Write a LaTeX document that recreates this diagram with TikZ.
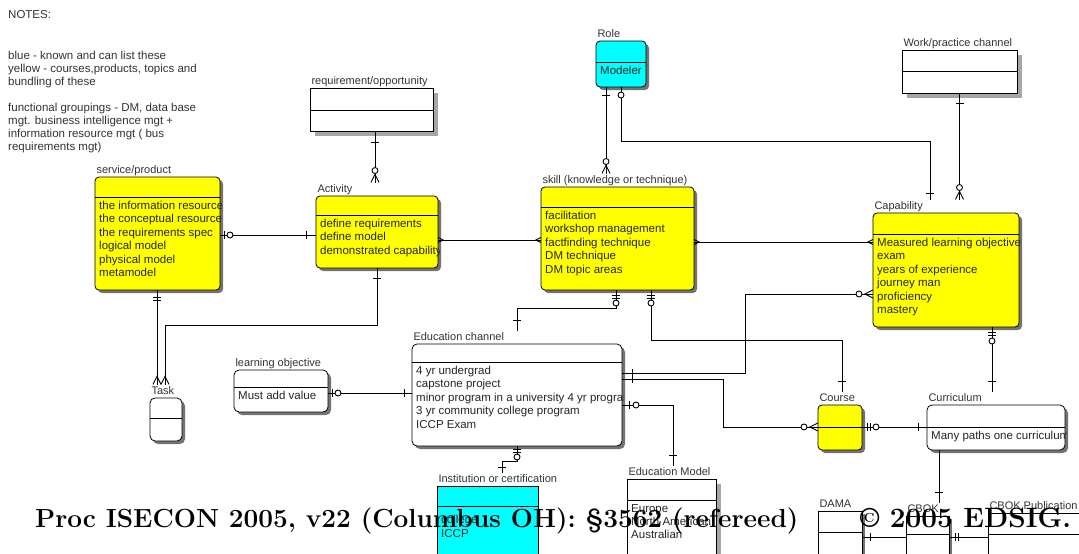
\documentclass[tikz,border=0pt]{standalone}
\usepackage{fontspec}
\setsansfont{Liberation Sans}
\usetikzlibrary{positioning,calc,shadows,decorations.markings}
\definecolor{erYel}{RGB}{255,255,0}
\definecolor{erCyan}{RGB}{0,255,255}
\tikzset{
  dshd/.style={drop shadow={shadow xshift=3pt,shadow yshift=-3pt,fill=black!55,opacity=1}},
  gshd/.style={drop shadow={shadow xshift=5pt,shadow yshift=-5pt,fill=black!35,opacity=1}},
  ybox/.style={draw,line width=.8pt,fill=erYel,rounded corners=4pt,dshd,inner sep=0,outer sep=0},
  cbox/.style={draw,line width=.8pt,fill=erCyan,rounded corners=4pt,dshd,inner sep=0,outer sep=0},
  wbox/.style={draw,line width=.8pt,fill=white,rounded corners=5pt,dshd,inner sep=0,outer sep=0},
  sbox/.style={draw,line width=.8pt,fill=white,gshd,inner sep=0,outer sep=0},
  qbox/.style={draw,line width=.8pt,fill=white,dshd,inner sep=0,outer sep=0},
  ibox/.style={draw,line width=.8pt,fill=erCyan,inner sep=0,outer sep=0},
  divl/.style={line width=.8pt},
  ttl/.style={anchor=base west,inner sep=0,outer sep=1.5pt,text=black!80,
              font=\sffamily\fontsize{11}{13}\selectfont},
  att/.style={anchor=north west,inner sep=0,align=left,text=black!85,
              font=\sffamily\fontsize{11.5}{13.4}\selectfont},
  note/.style={anchor=north west,inner sep=0,align=left,text=black!80,
              font=\sffamily\fontsize{11.5}{13}\selectfont},
  foot/.style={anchor=base west,inner sep=0,font=\rmfamily\bfseries\fontsize{26.2}{30}\selectfont},
  con/.style={line width=.9pt},
  mk/.style={line width=.9pt,black},
  sbar/.style={postaction={decorate,decoration={markings,
      mark=at position #1 with {\draw[mk] (0,-4pt) -- (0,4pt);}}}},
  ebar/.style={postaction={decorate,decoration={markings,
      mark=at position -#1 with {\draw[mk] (0,-4pt) -- (0,4pt);}}}},
  scirc/.style={postaction={decorate,decoration={markings,
      mark=at position #1 with {\draw[mk,fill=white] (0,0) circle (3pt);}}}},
  ecirc/.style={postaction={decorate,decoration={markings,
      mark=at position -#1 with {\draw[mk,fill=white] (0,0) circle (3pt);}}}},
  scrow/.style={postaction={decorate,decoration={markings,
      mark=at position 0.1pt with {\draw[mk] (0,#1/2) -- (#1,0) -- (0,-#1/2);}}}},
  ecrow/.style={postaction={decorate,decoration={markings,
      mark=at position -0.1pt with {\draw[mk] (0,#1/2) -- (-#1,0) -- (0,-#1/2);}}}},
  scrow/.default=8pt, ecrow/.default=8pt,
}
% entity: name, style, x, y, width, height, divider, title, attributes
\newcommand\erent[9]{%
  \node[#2,minimum width=#5pt,minimum height=#6pt,anchor=north west] (#1) at (#3,#4) {};
  \draw[divl] ([yshift=-#7pt]#1.north west) -- ([yshift=-#7pt]#1.north east);
  \node[ttl] (#1-t) at ([yshift=4pt]#1.north west) {#8};
  \begin{scope}
    \clip ([xshift=-1pt]#1.north west) rectangle ([xshift=1pt]#1.south east);
    \node[att] (#1-a) at ([shift={(4pt,-#7pt-4pt)}]#1.north west) {#9};
  \end{scope}}

\begin{document}
\begin{tikzpicture}[x=1pt,y=-1pt]
  \useasboundingbox[fill=white] (0,0) rectangle (1079,554);
  % notes
  \node[note] (notes) at (8,10) {NOTES:};
  \node[note] (notes-a) at (8,51) {blue - known and can list these\\yellow - courses,products, topics and\\bundling of these};
  \node[note] (notes-b) at (8,103) {functional groupings - DM, data base\\mgt. business intelligence mgt +\\information resource mgt ( bus\\requirements mgt)};
  % entities
  \erent{svc}{ybox}{95}{177}{125}{113}{20}{service/product}{the information resource\\the conceptual resource\\the requirements spec\\logical model\\physical model\\metamodel}
  \erent{req}{sbox}{310}{88}{123}{43}{22}{requirement/opportunity}{}
  \erent{act}{ybox}{316}{196}{122}{72}{19}{Activity}{define requirements\\define model\\demonstrated capability}
  \erent{role}{cbox}{596}{41}{50}{46}{21}{Role}{Modeler}
  \erent{skl}{ybox}{541}{187}{153}{103}{20}{skill (knowledge or technique)}{facilitation\\workshop management\\factfinding technique\\DM technique\\DM topic areas}
  \erent{wpc}{sbox}{902}{50}{115}{43}{21}{Work/practice channel}{}
  \erent{cap}{ybox}{873}{213}{146}{114}{21}{Capability}{Measured learning objective\\exam\\years of experience\\journey man\\proficiency\\mastery}
  \erent{task}{wbox}{150}{398}{32}{43}{20}{Task}{}
  \erent{lo}{wbox}{234}{370}{94}{42}{17}{learning objective}{Must add value}
  \erent{ec}{wbox}{412}{344}{210}{102}{18}{Education channel}{4 yr undergrad\\capstone project\\minor program in a university 4 yr program\\3 yr community college program\\ICCP Exam}
  \erent{crs}{ybox}{818}{405}{44}{45}{22}{Course}{}
  \erent{cur}{wbox}{927}{405}{138}{45}{22}{Curriculum}{Many paths one curriculum}
  \erent{inst}{ibox}{437}{486}{101}{80}{20}{Institution or certification}{\mbox{}\\college\\ICCP}
  \erent{edm}{sbox}{627}{479}{89}{80}{21}{Education Model}{Europe\\North American\\Australian}
  \erent{dama}{qbox}{818}{511}{44}{60}{21}{DAMA}{}
  \erent{cbok}{qbox}{906}{516}{43}{60}{18}{CBOK}{}
  \erent{cbp}{qbox}{988}{513}{100}{60}{21}{CBOK Publication}{}
  % relationships
  \draw[con,sbar=4pt,scirc=10pt,ebar=10pt] (svc.east |- 0,235) -- (act.west |- 0,235);
  \draw[con,sbar=11pt,ecirc=12pt,ecrow] (req.south -| 375,0) -- (375,0 |- act-t.north);
  \draw[con,scrow=5pt,ecrow=5pt] (act.east |- 0,240) -- (skl.west |- 0,240);
  \draw[con,sbar=8pt,ecirc=12pt,ecrow] (role.south -| 606,0) -- (606,0 |- skl-t.north);
  \draw[con,scirc=8pt,ebar=6pt] (role.south -| 621,0) |- (930,141) -- (930,0 |- cap-t.north);
  \draw[con,sbar=10pt,ecirc=12pt,ecrow] (wpc.south) -- (wpc.south |- cap-t.north);
  \draw[con,scrow=5pt,ecrow=5pt] (skl.east |- 0,242) -- (cap.west |- 0,242);
  \draw[con,sbar=7pt,sbar=10pt,ecrow] (svc.south -| 157,0) -- (157,0 |- task-t.north);
  \draw[con,sbar=10pt,ecrow] (act.south -| 377,0) |- (165,325) -- (165,0 |- task-t.north);
  \draw[con,sbar=5pt,sbar=8pt,scirc=13pt,ebar=10pt] (skl.south -| 616,0) |- (517,308) -- (517,0 |- ec-t.north);
  \draw[con,sbar=5pt,sbar=8pt,scirc=13pt,ebar=10pt] (skl.south -| 651,0) |- (842,340) -- (842,0 |- crs-t.north);
  \draw[con,sbar=10pt,ecirc=14pt,ecrow] (ec.east |- 0,373) -| (745,294) -- (cap.west |- 0,294);
  \draw[con,sbar=10pt,ecirc=14pt,ecrow] (ec.east |- 0,379) -| (723,427) -- (crs.west |- 0,427);
  \draw[con,sbar=7pt,scirc=14pt,ebar=10pt] (ec.east |- 0,405) -| (673,0 |- edm-t.north);
  \draw[con,sbar=5pt,sbar=8pt,scirc=14pt,ebar=9pt] (crs.east |- 0,427) -- (cur.west |- 0,427);
  \draw[con,sbar=5pt,sbar=8pt,scirc=14pt,ebar=10pt] (cap.south -| 992,0) -- (992,0 |- cur-t.north);
  \draw[con,ebar=10pt] (cur.south -| 939,0) -- (939,0 |- cbok-t.north);
  \draw[con,sbar=4pt,scirc=10pt,ebar=8pt] (lo.east |- 0,393) -- (ec.west |- 0,393);
  \draw[con,sbar=3pt,sbar=6pt,scirc=11pt,ebar=5pt] (ec.south -| 517,0) |- (502,461) -- (502,0 |- inst-t.north);
  \draw[con,sbar=8pt] (dama.east |- 0,537) -- (cbok.west |- 0,537);
  \draw[con,sbar=6pt,sbar=9pt] (cbok.east |- 0,537) -- (cbp.west |- 0,537);
  % footer
  \node[foot] (foot) at (35,527) {Proc ISECON 2005, v22 (Columbus OH): §3562 (refereed)};
  \node[foot,font=\rmfamily\bfseries\fontsize{28}{32}\selectfont] (copy) at (860,527) {© 2005 EDSIG.};
\end{tikzpicture}
\end{document}
